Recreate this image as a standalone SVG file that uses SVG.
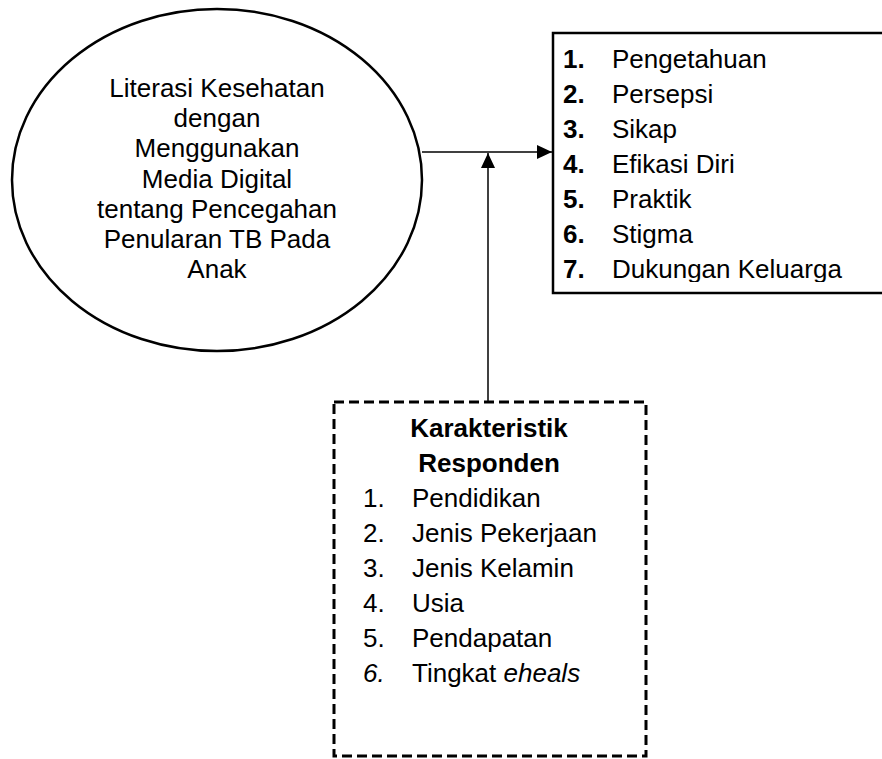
<svg xmlns="http://www.w3.org/2000/svg" width="882" height="759" viewBox="0 0 882 759">
<style>
text{font-family:"Liberation Sans",Arial,sans-serif;font-size:26px;fill:#000}
.c{text-anchor:middle}
.b{font-weight:bold}
.i{font-style:italic}
.ln{stroke:#000;stroke-width:1.5;fill:none}
</style>
<defs>
<marker id="ah" markerWidth="16" markerHeight="14" refX="15" refY="7" orient="auto" markerUnits="userSpaceOnUse">
<path d="M0,0 L15,7 L0,14 Z" fill="#000"/>
</marker>
<clipPath id="clipR"><rect x="552" y="32" width="330" height="250"/></clipPath>
</defs>
<rect width="882" height="759" fill="#fff"/>
<g id="literasi">
<ellipse cx="217" cy="180" rx="205" ry="171" fill="none" stroke="#000" stroke-width="2.5"/>
<text class="c" x="217" y="97">Literasi Kesehatan</text>
<text class="c" x="217" y="127">dengan</text>
<text class="c" x="217" y="157">Menggunakan</text>
<text class="c" x="217" y="188">Media Digital</text>
<text class="c" x="217" y="218">tentang Pencegahan</text>
<text class="c" x="217" y="248">Penularan TB Pada</text>
<text class="c" x="217" y="278">Anak</text>
</g>
<g id="outcomes">
<rect x="553" y="33" width="340" height="260" fill="#fff" stroke="#000" stroke-width="2.5"/>
<g clip-path="url(#clipR)">
<text class="b" x="563" y="68">1.</text><text x="612" y="68">Pengetahuan</text>
<text class="b" x="563" y="103">2.</text><text x="612" y="103">Persepsi</text>
<text class="b" x="563" y="138">3.</text><text x="612" y="138">Sikap</text>
<text class="b" x="563" y="173">4.</text><text x="612" y="173">Efikasi Diri</text>
<text class="b" x="563" y="208">5.</text><text x="612" y="208">Praktik</text>
<text class="b" x="563" y="243">6.</text><text x="612" y="243">Stigma</text>
<text class="b" x="563" y="278">7.</text><text x="612" y="278">Dukungan Keluarga</text>
</g>
</g>
<g id="karakteristik">
<rect x="334" y="402" width="312" height="354" fill="none" stroke="#000" stroke-width="3" stroke-dasharray="10,5"/>
<text class="c b" x="489" y="437">Karakteristik</text>
<text class="c b" x="489" y="472">Responden</text>
<text x="363" y="507">1.</text><text x="412" y="507">Pendidikan</text>
<text x="363" y="542">2.</text><text x="412" y="542">Jenis Pekerjaan</text>
<text x="363" y="577">3.</text><text x="412" y="577">Jenis Kelamin</text>
<text x="363" y="612">4.</text><text x="412" y="612">Usia</text>
<text x="363" y="647">5.</text><text x="412" y="647">Pendapatan</text>
<text class="i" x="363" y="682">6.</text><text x="412" y="682">Tingkat <tspan class="i">eheals</tspan></text>
</g>
<g id="connectors">
<line class="ln" x1="422" y1="152" x2="552" y2="152" marker-end="url(#ah)"/>
<line class="ln" x1="488" y1="402" x2="488" y2="153" marker-end="url(#ah)"/>
</g>
</svg>
